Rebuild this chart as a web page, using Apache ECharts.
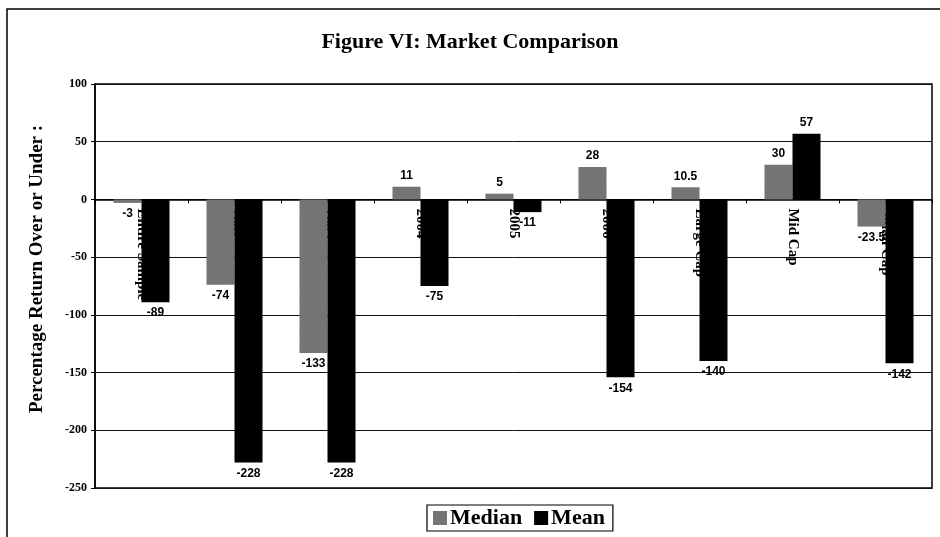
<!DOCTYPE html>
<html>
<head>
<meta charset="utf-8">
<script src="https://cdn.jsdelivr.net/npm/echarts@6/dist/echarts.min.js"></script>
<style>
html,body{margin:0;padding:0;background:#fff;}
#c{width:940px;height:537px;}
</style>
</head>
<body>
<div id="c"></div>
<script>
const categories = ['Entire Sample', '2002', '2003', '2004', '2005', '2006', 'Large Cap', 'Mid Cap', 'Small Cap'];
const medianValues = [-3, -74, -133, 11, 5, 28, 10.5, 30, -23.5];
const meanValues = [-89, -228, -228, -75, -11, -154, -140, 57, -142];
const yTicks = { min: -250, max: 100, interval: 50 };

const serif = 'Liberation Serif';
const sans = 'Liberation Sans';

const gridBox = { left: 95, right: 8, top: 84, bottom: 49 };
const plotH = 537 - gridBox.top - gridBox.bottom;
// distance from the plot bottom up to the value 0
const zeroOffset = plotH * (0 - yTicks.min) / (yTicks.max - yTicks.min);

function withLabels(vals) {
  return vals.map(v => ({
    value: v,
    label: { position: v < 0 ? 'bottom' : 'top' }
  }));
}

const chart = echarts.init(document.getElementById('c'), null, { renderer: 'canvas' });
chart.setOption({
  backgroundColor: '#fff',
  animation: false,
  title: {
    text: 'Figure VI: Market Comparison',
    left: 'center',
    top: 26,
    textStyle: { fontFamily: serif, fontWeight: 'bold', fontSize: 22, color: '#000' }
  },
  graphic: [{
    type: 'rect',
    shape: { x: 7, y: 9, width: 960, height: 560 },
    style: { fill: 'none', stroke: '#000', lineWidth: 1.5 },
    silent: true
  }],
  legend: {
    top: 505,
    left: 427,
    itemWidth: 14,
    itemHeight: 14,
    itemGap: 12,
    icon: 'rect',
    padding: [2, 8, 2, 6],
    borderColor: '#000',
    borderWidth: 1.2,
    textStyle: { fontFamily: serif, fontWeight: 'bold', fontSize: 22, color: '#000', padding: [0, 0, 0, -2] },
    data: ['Median', 'Mean']
  },
  grid: {
    left: gridBox.left, right: gridBox.right, top: gridBox.top, bottom: gridBox.bottom,
    show: true, borderColor: '#000', borderWidth: 1.5,
    containLabel: false,
    outerBoundsMode: 'none'
  },
  xAxis: {
    type: 'category',
    data: categories,
    position: 'bottom',
    offset: -zeroOffset,
    axisLine: { onZero: false, lineStyle: { color: '#000', width: 1.5 } },
    axisTick: { show: true, length: 4, lineStyle: { color: '#000' } },
    axisLabel: {
      rotate: -90,
      margin: 9,
      interval: 0,
      fontFamily: serif, fontWeight: 'bold', fontSize: 15, color: '#000'
    },
    splitLine: { show: false }
  },
  yAxis: {
    type: 'value',
    min: yTicks.min, max: yTicks.max, interval: yTicks.interval,
    name: 'Percentage Return Over or Under :',
    nameLocation: 'middle',
    nameGap: 48,
    nameTextStyle: { fontFamily: serif, fontWeight: 'bold', fontSize: 19, color: '#000', padding: [0, 0, 0, 34] },
    axisLine: { show: true, lineStyle: { color: '#000', width: 1.5 } },
    axisTick: { show: true, length: 4, lineStyle: { color: '#000' } },
    axisLabel: { fontFamily: serif, fontWeight: 'bold', fontSize: 12, color: '#000', margin: 8 },
    splitLine: { show: true, lineStyle: { color: '#111', width: 1 } }
  },
  series: [
    {
      name: 'Median',
      type: 'bar',
      barWidth: 28,
      barGap: '0%',
      data: withLabels(medianValues),
      itemStyle: {
        color: '#737373',
        decal: {
          symbol: 'rect',
          symbolSize: 0.5,
          color: 'rgba(215,215,215,0.5)',
          dashArrayX: [[1, 2]],
          dashArrayY: [1, 2],
          rotation: 0.6
        }
      },
      label: { show: true, distance: 5, fontFamily: sans, fontWeight: 'bold', fontSize: 12, color: '#000' }
    },
    {
      name: 'Mean',
      type: 'bar',
      barWidth: 28,
      data: withLabels(meanValues),
      itemStyle: { color: '#000' },
      label: { show: true, distance: 5, fontFamily: sans, fontWeight: 'bold', fontSize: 12, color: '#000' }
    }
  ]
});
</script>
</body>
</html>
